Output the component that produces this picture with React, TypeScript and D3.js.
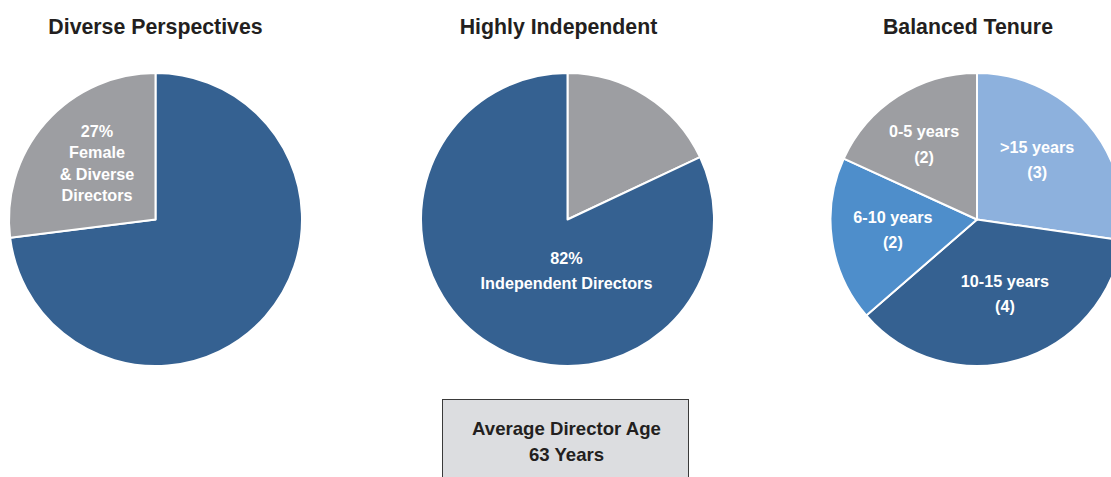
import React from "react";
import * as d3 from "d3";

const diverseLabels = ["Other Directors", "Female & Diverse Directors"];
const diverseValues = [73, 27];
const independentLabels = ["Non-Independent", "Independent Directors"];
const independentValues = [18, 82];
const tenureLabels = [">15 years", "10-15 years", "6-10 years", "0-5 years"];
const tenureValues = [3, 4, 2, 2];
const titles = ["Diverse Perspectives", "Highly Independent", "Balanced Tenure"];
const ageTitle = "Average Director Age";
const ageValue = "63 Years";

const DARK = "#356191";
const GRAY = "#9d9ea2";
const LIGHT = "#8db1dd";
const MID = "#4e8ecb";
const FONT = "'Liberation Sans', Arial, Helvetica, sans-serif";

const W = 1111;
const H = 477;
const R = 146.5;
const CY = 219.5;
const centers = [155.5, 567.5, 977];
const titleX = [155.5, 558.5, 968];
// small label nudges per tenure slice (layout only)
const tenureNudge = [[-4, -4], [4, -7.5], [0, -2], [-7, -4]];

function slices(values: number[]) {
  return d3.pie<number>().sort(null).value((d) => d)(values);
}

export default function App() {
  const arc = d3.arc<d3.PieArcDatum<number>>().innerRadius(0).outerRadius(R);
  const p1 = slices(diverseValues);
  const p2 = slices(independentValues);
  const p3 = slices(tenureValues);
  const c1 = [DARK, GRAY];
  const c2 = [GRAY, DARK];
  const c3 = [LIGHT, DARK, MID, GRAY];
  const lab1 = d3.arc<d3.PieArcDatum<number>>().innerRadius(78).outerRadius(78);
  const lab3 = d3.arc<d3.PieArcDatum<number>>().innerRadius(85).outerRadius(85);

  const txt = { fill: "#fff", fontWeight: 700, fontSize: 16.2, fontFamily: FONT, textAnchor: "middle" as const };

  const g1 = lab1.centroid(p1[1]);
  const pct1 = Math.round((diverseValues[1] / d3.sum(diverseValues)) * 100);
  const pct2 = Math.round((independentValues[1] / d3.sum(independentValues)) * 100);

  return (
    <svg width={W} height={H} style={{ position: "absolute", left: 0, top: 0, background: "#fff" }}>
      {titles.map((t, i) => (
        <text key={t} x={titleX[i]} y={34} textAnchor="middle" fontFamily={FONT} fontWeight={700} fontSize={21.3} fill="#231f20">
          {t}
        </text>
      ))}
      <g transform={`translate(${centers[0]},${CY})`}>
        {p1.map((d, i) => (
          <path key={i} d={arc(d) || ""} fill={c1[i]} stroke="#fff" strokeWidth={2} strokeLinejoin="round" />
        ))}
        <text x={g1[0]} y={g1[1]} {...txt}>
          <tspan x={g1[0]} dy={-31}>{pct1}%</tspan>
          <tspan x={g1[0]} dy={21.3}>Female</tspan>
          <tspan x={g1[0]} dy={21.3}>&amp; Diverse</tspan>
          <tspan x={g1[0]} dy={21.3}>Directors</tspan>
        </text>
      </g>
      <g transform={`translate(${centers[1]},${CY})`}>
        {p2.map((d, i) => (
          <path key={i} d={arc(d) || ""} fill={c2[i]} stroke="#fff" strokeWidth={2} strokeLinejoin="round" />
        ))}
        <text {...txt}>
          <tspan x={-1} y={44.5}>{pct2}%</tspan>
          <tspan x={-1} y={69.5}>{independentLabels[1]}</tspan>
        </text>
      </g>
      <g transform={`translate(${centers[2]},${CY})`}>
        {p3.map((d, i) => (
          <path key={i} d={arc(d) || ""} fill={c3[i]} stroke="#fff" strokeWidth={2} strokeLinejoin="round" />
        ))}
        {p3.map((d, i) => {
          const [cx, cy] = lab3.centroid(d);
          const x = cx + tenureNudge[i][0];
          const y = cy + tenureNudge[i][1];
          return (
            <text key={i} {...txt}>
              <tspan x={x} y={y - 7}>{tenureLabels[i]}</tspan>
              <tspan x={x} y={y + 18.5}>({tenureValues[i]})</tspan>
            </text>
          );
        })}
      </g>
      <rect x={442.5} y={399.5} width={246} height={90} fill="#dcdde0" stroke="#3a3a3a" strokeWidth={1} />
      <text x={566.5} y={435} textAnchor="middle" fontFamily={FONT} fontWeight={700} fontSize={18.6} fill="#231f20">
        {ageTitle}
      </text>
      <text x={566.5} y={461} textAnchor="middle" fontFamily={FONT} fontWeight={700} fontSize={18.6} fill="#231f20">
        {ageValue}
      </text>
    </svg>
  );
}
